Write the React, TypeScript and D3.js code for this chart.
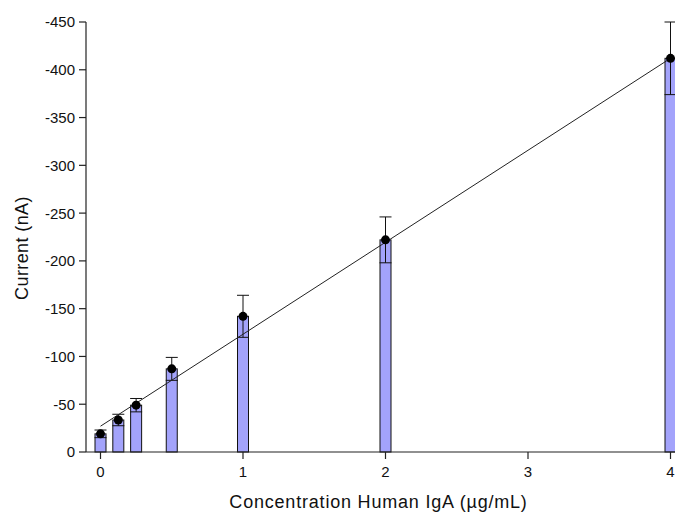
import React from "react";
import * as d3 from "d3";

const concentrations = [0, 0.125, 0.25, 0.5, 1, 2, 4];
const currentMeans = [-19, -33.5, -49, -87, -142, -222, -412];
const currentErrors = [4, 6, 7, 12, 22, 24, 38];
const yTicks = [0, -50, -100, -150, -200, -250, -300, -350, -400, -450];
const xTicks = [0, 1, 2, 3, 4];
const fitIntercept = -27;
const fitSlope = -96.25;
const fitRange = [0, 4];

const W = 675;
const H = 512;

export default function App() {
  const x = d3.scaleLinear().domain([0, 4]).range([100.5, 670.5]);
  const y = d3.scaleLinear().domain([0, -450]).range([452, 22]);
  const x0 = 86;
  const y0 = 452;
  const barW = 11;
  const capW = 12;
  const font = "'Liberation Sans', Arial, sans-serif";
  const fitLine = d3
    .line<number>()
    .x((d) => x(d))
    .y((d) => y(fitIntercept + fitSlope * d));

  return (
    <svg width={W} height={H} style={{ position: "absolute", left: 0, top: 0, background: "#fff" }}>
      <rect x={0} y={0} width={W} height={H} fill="#fff" />
      {concentrations.map((c, i) => (
        <rect
          key={"b" + i}
          x={x(c) - barW / 2}
          y={y(currentMeans[i])}
          width={barW}
          height={y0 - y(currentMeans[i])}
          fill="#a3a3fb"
          stroke="#111"
          strokeWidth={1}
        />
      ))}
      {concentrations.map((c, i) => {
        const m = currentMeans[i];
        const e = currentErrors[i];
        const top = y(m - e);
        const bot = y(m + e);
        return (
          <g key={"e" + i} stroke="#111" strokeWidth={1}>
            <line x1={x(c)} x2={x(c)} y1={top} y2={bot} />
            <line x1={x(c) - capW / 2} x2={x(c) + capW / 2} y1={top} y2={top} />
            <line x1={x(c) - capW / 2} x2={x(c) + capW / 2} y1={bot} y2={bot} />
          </g>
        );
      })}
      <path d={fitLine(fitRange) || ""} fill="none" stroke="#222" strokeWidth={1} />
      {concentrations.map((c, i) => (
        <circle key={"p" + i} cx={x(c)} cy={y(currentMeans[i])} r={4.5} fill="#000" />
      ))}
      <line x1={x0} x2={x0} y1={y(-450)} y2={y0} stroke="#222" strokeWidth={1.2} />
      <line x1={x0} x2={W} y1={y0} y2={y0} stroke="#222" strokeWidth={1.2} />
      {yTicks.map((t) => (
        <g key={"yt" + t}>
          <line x1={x0 - 7} x2={x0} y1={y(t)} y2={y(t)} stroke="#222" strokeWidth={1.2} />
          <text
            x={x0 - 11}
            y={y(t)}
            dy="0.36em"
            textAnchor="end"
            fontFamily={font}
            fontSize={15}
            fill="#111"
          >
            {t === 0 ? "0" : String(t)}
          </text>
        </g>
      ))}
      {xTicks.map((t) => (
        <g key={"xt" + t}>
          <line x1={x(t)} x2={x(t)} y1={y0} y2={y0 + 7} stroke="#222" strokeWidth={1.2} />
          <text x={x(t)} y={477} textAnchor="middle" fontFamily={font} fontSize={15} fill="#111">
            {t}
          </text>
        </g>
      ))}
      <text
        x={378.5}
        y={508}
        textAnchor="middle"
        fontFamily={font}
        fontSize={18}
        letterSpacing={0.8}
        fill="#111"
      >
        Concentration Human IgA (µg/mL)
      </text>
      <text
        transform={`translate(28,248) rotate(-90)`}
        textAnchor="middle"
        fontFamily={font}
        fontSize={18}
        letterSpacing={0.4}
        fill="#111"
      >
        Current (nA)
      </text>
    </svg>
  );
}
